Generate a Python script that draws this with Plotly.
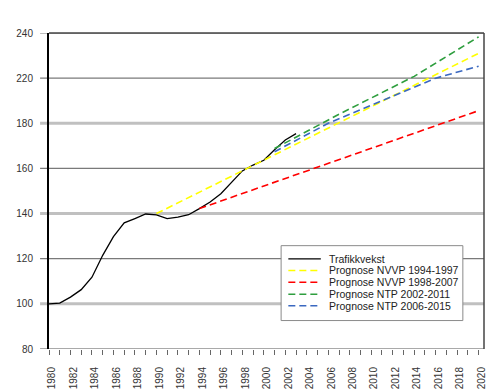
import plotly.graph_objects as go

# ---------------- data ----------------
years_actual = list(range(1980, 2004))
trafikkvekst = [100.0, 100.3, 103.0, 106.3, 111.8, 121.5, 129.8, 135.9, 137.8, 139.8,
                139.4, 137.8, 138.4, 139.5, 142.2, 145.1, 148.8, 153.7, 158.9, 161.5,
                163.6, 168.3, 172.6, 175.4]

years_nvvp94 = [1990, 2020]
prog_nvvp94 = [140.0, 211.0]

years_nvvp98 = [1994, 2020]
prog_nvvp98 = [142.2, 185.6]

years_ntp02 = [2001, 2007, 2014, 2020]
prog_ntp02 = [168.8, 184.0, 200.8, 218.3]

years_ntp06 = [2001, 2006, 2013, 2016, 2020]
prog_ntp06 = [167.4, 180.0, 194.0, 200.0, 205.3]

series_names = ["Trafikkvekst", "Prognose NVVP 1994-1997", "Prognose NVVP 1998-2007",
                "Prognose NTP 2002-2011", "Prognose NTP 2006-2015"]
series_colors = ["#000000", "#FFFF00", "#FF0000", "#2E9E3E", "#3A68C0"]

y_tickvals = [80, 100, 120, 140, 160, 180, 200, 220]
y_ticktext = ["80", "100", "120", "140", "160", "180", "220", "240"]
x_tickvals = list(range(1980, 2021, 2))

# ---------------- figure ----------------
FONT = "Liberation Sans, Arial, Helvetica, sans-serif"
DASH = "7px,4px"

fig = go.Figure()
fig.add_trace(go.Scatter(x=years_actual, y=trafikkvekst, mode="lines", name=series_names[0],
                         line=dict(color=series_colors[0], width=1.3), showlegend=False))
data_fc = [(years_nvvp94, prog_nvvp94), (years_nvvp98, prog_nvvp98),
           (years_ntp02, prog_ntp02), (years_ntp06, prog_ntp06)]
for i, (xs, ys) in enumerate(data_fc, start=1):
    fig.add_trace(go.Scatter(x=xs, y=ys, mode="lines", name=series_names[i],
                             line=dict(color=series_colors[i], width=1.6, dash=DASH),
                             showlegend=False))

shapes = []
# alternating gridlines (light thick / dark thin), extended left as tick marks
for v in y_tickvals:
    if v in (100, 140, 180):
        col, w = "#C0C0C0", 3
    elif v == 80:
        col, w = "#8C8C8C", 1.5
    else:
        col, w = "#7A7A7A", 1.2
    shapes.append(dict(type="line", xref="paper", yref="y", x0=-0.0205, x1=1, y0=v, y1=v,
                       line=dict(color=col, width=w), layer="below"))
# top and right border
shapes.append(dict(type="line", xref="paper", yref="paper", x0=0, x1=1, y0=1, y1=1,
                   line=dict(color="#444444", width=1.5), layer="above"))
shapes.append(dict(type="line", xref="paper", yref="paper", x0=1, x1=1, y0=0, y1=1,
                   line=dict(color="#444444", width=1.5), layer="above"))

# legend box (manual, compact rows)
lx0, lx1, ly0, ly1 = 0.5336, 0.9514, 0.090, 0.327
shapes.append(dict(type="rect", xref="paper", yref="paper", x0=lx0, x1=lx1, y0=ly0, y1=ly1,
                   fillcolor="white", line=dict(color="#8A8A8A", width=1), layer="above"))
row_y = [0.2853, 0.2486, 0.2110, 0.1734, 0.1370]
annotations = []
for i, name in enumerate(series_names):
    shapes.append(dict(type="line", xref="paper", yref="paper", x0=0.5502, x1=0.6249,
                       y0=row_y[i], y1=row_y[i], layer="above",
                       line=dict(color=series_colors[i], width=1.6 if i else 1.3,
                                 dash="solid" if i == 0 else DASH)))
    annotations.append(dict(xref="paper", yref="paper", x=0.640, y=row_y[i], text=name,
                            showarrow=False, xanchor="left", yanchor="middle",
                            font=dict(family=FONT, size=10.5, color="#222222")))

fig.update_layout(
    width=488, height=390,
    margin=dict(l=49, r=1, t=33, b=38),
    paper_bgcolor="white", plot_bgcolor="white",
    font=dict(family=FONT, size=10, color="#333333"),
    showlegend=False,
    shapes=shapes, annotations=annotations,
    xaxis=dict(range=[1980, 2020.5], tickmode="array", tickvals=x_tickvals,
               ticktext=[str(v) for v in x_tickvals], tickangle=-90,
               ticks="outside", ticklen=5, tickcolor="#666666", tickwidth=1,
               minor=dict(dtick=1, tick0=1980, ticks="outside", ticklen=5,
                          tickcolor="#666666", tickwidth=1, showgrid=False),
               showgrid=False, zeroline=False, showline=False,
               ticklabelshift=3, ticklabelstandoff=8, ticklabeloverflow="allow",
               tickfont=dict(family=FONT, size=10, color="#333333")),
    yaxis=dict(range=[80, 220], tickmode="array", tickvals=y_tickvals, ticktext=y_ticktext,
               ticks="outside", ticklen=9, tickcolor="rgba(0,0,0,0)",
               showgrid=False, zeroline=False,
               showline=True, linecolor="#000000", linewidth=2,
               ticklabelstandoff=3,
               tickfont=dict(family=FONT, size=10, color="#333333")),
)

fig.write_html("out.html", config={"displayModeBar": False},
               post_script="document.body.style.margin='0';document.body.style.padding='0';")
